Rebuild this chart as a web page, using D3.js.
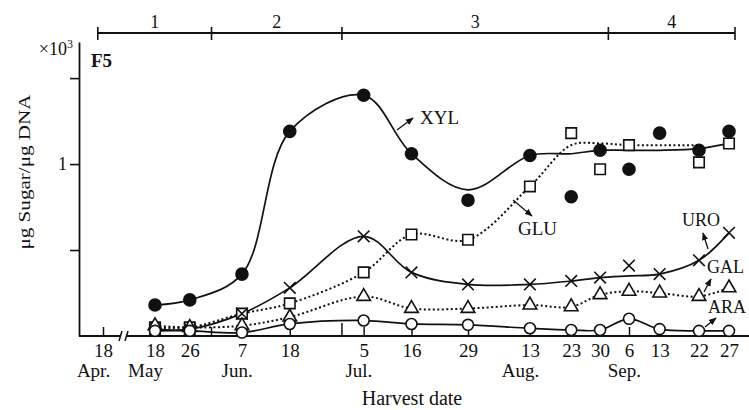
<!DOCTYPE html>
<html>
<head>
<meta charset="utf-8">
<script src="https://cdn.jsdelivr.net/npm/d3@7"></script>
<style>
    body { margin: 0; background: #fff; }
    svg { display: block; font-family: "Liberation Serif", "Times New Roman", serif; }
</style>
</head>
<body>
<svg width="749" height="410"></svg>
<script>
    var parseDate = d3.timeParse("%Y-%m-%d");

    // axis ticks (18 Apr sits before the axis break)
    var tickDates = ["1983-04-18", "1983-05-18", "1983-05-26", "1983-06-07", "1983-06-18",
        "1983-07-05", "1983-07-16", "1983-07-29", "1983-08-13", "1983-08-23", "1983-08-30",
        "1983-09-06", "1983-09-13", "1983-09-22", "1983-09-27"];
    var monthDates = ["1983-04-18", "1983-05-18", "1983-06-07", "1983-07-05", "1983-08-13", "1983-09-06"];
    var monthNames = ["Apr.", "May", "Jun.", "Jul.", "Aug.", "Sep."];

    // growth stages 1-4 (bar on top)
    var stageBounds = ["1983-04-15", "1983-05-31", "1983-06-30", "1983-09-01", "1983-09-28"];
    var stageNames = ["1", "2", "3", "4"];

    var harvestDates = ["1983-05-18", "1983-05-26", "1983-06-07", "1983-06-18", "1983-07-05",
        "1983-07-16", "1983-07-29", "1983-08-13", "1983-08-23", "1983-08-30", "1983-09-06",
        "1983-09-13", "1983-09-22", "1983-09-27"];

    // x10^3 ug sugar / ug DNA
    var xyl      = [0.18, 0.21, 0.36, 1.19, 1.40, 1.06, 0.79, 1.05, 0.81, 1.08, 0.97, 1.18, 1.08, 1.19];
    var xylCurve = [0.18, 0.21, 0.36, 1.19, 1.40, 1.06, 0.85, 1.05, 1.06, 1.08, 1.08, 1.08, 1.09, 1.12];
    var glu      = [0.05, 0.05, 0.13, 0.19, 0.37, 0.59, 0.56, 0.87, 1.18, 0.97, 1.11, null, 1.01, 1.12];
    var gluCurve = [0.05, 0.05, 0.13, 0.19, 0.37, 0.59, 0.56, 0.87, 1.11, 1.12, 1.11, 1.11, 1.11, null];
    var uro      = [0.04, 0.04, 0.13, 0.28, 0.58, 0.37, 0.30, 0.30, 0.32, 0.34, 0.41, 0.36, 0.44, 0.60];
    var uroCurve = [0.04, 0.04, 0.13, 0.28, 0.58, 0.37, 0.30, 0.30, 0.32, 0.34, 0.35, 0.36, 0.44, 0.60];
    var gal      = [0.06, 0.05, 0.06, 0.11, 0.23, 0.16, 0.16, 0.18, 0.17, 0.24, 0.26, 0.25, 0.23, 0.28];
    var ara      = [0.03, 0.03, 0.02, 0.07, 0.09, 0.07, 0.065, 0.045, 0.035, 0.035, 0.10, 0.04, 0.03, 0.03];

    var yTicks = [0.5, 1, 1.5];

    var svg = d3.select("svg"),
        ink = "#111",
        baseY = 336;

    // broken time axis: Apr segment, then the harvest season
    var x = d3.scaleTime()
        .domain(["1983-04-18", "1983-05-18", "1983-07-29", "1983-09-06", "1983-09-22", "1983-09-27"].map(parseDate))
        .range([103, 155, 468, 629, 699, 729]);

    var y = d3.scaleLinear()
        .domain([0, 1.71])
        .range([baseY, 42]);

    var series = [
        {name: "XYL", values: xyl, curve: xylCurve, dotted: false, symbol: d3.symbolCircle, size: 113, filled: true},
        {name: "GLU", values: glu, curve: gluCurve, dotted: true, symbol: d3.symbolSquare, size: 110, filled: false},
        {name: "URO", values: uro, curve: uroCurve, dotted: false, symbol: d3.symbolTimes, size: 90, filled: false},
        {name: "GAL", values: gal, curve: gal, dotted: true, symbol: d3.symbolTriangle, size: 80, filled: false},
        {name: "ARA", values: ara, curve: ara, dotted: false, symbol: d3.symbolCircle, size: 95, filled: false}
    ];

    // label + arrow placement (px)
    var notes = [
        {text: "XYL", x: 420, y: 124, size: 19, from: [397, 130], to: [413, 118]},
        {text: "GLU", x: 518, y: 235, size: 19, from: [513, 200], to: [532, 216]},
        {text: "URO", x: 682, y: 226, size: 18, from: [708, 249], to: [703, 233]},
        {text: "GAL", x: 707, y: 273, size: 18, from: [704, 292], to: [711, 279]},
        {text: "ARA", x: 708, y: 313, size: 18, from: [705, 327], to: [716, 318]}
    ];

    svg.append("defs").append("marker")
        .attr("id", "head")
        .attr("viewBox", "0 0 10 10")
        .attr("refX", 9).attr("refY", 5)
        .attr("markerUnits", "userSpaceOnUse")
        .attr("markerWidth", 8).attr("markerHeight", 8)
        .attr("orient", "auto")
        .append("path")
        .attr("d", "M0,1L10,5L0,9z")
        .attr("fill", ink);

    // ---- top stage bar
    var stageX = stageBounds.map(function(d) { return x(parseDate(d)); });
    var stageBar = svg.append("g");
    stageBar.append("line")
        .attr("x1", stageX[0]).attr("x2", stageX[stageX.length - 1])
        .attr("y1", 33).attr("y2", 33)
        .attr("stroke", ink).attr("stroke-width", 1.8);
    stageBar.selectAll(".st")
        .data(stageX)
        .enter().append("line")
        .attr("x1", function(d) { return d; }).attr("x2", function(d) { return d; })
        .attr("y1", 27).attr("y2", 40)
        .attr("stroke", ink).attr("stroke-width", 1.6);
    stageBar.selectAll(".sl")
        .data(stageNames)
        .enter().append("text")
        .attr("x", function(d, i) { return (stageX[i] + stageX[i + 1]) / 2; })
        .attr("y", 28)
        .attr("text-anchor", "middle")
        .attr("font-size", 18)
        .attr("fill", ink)
        .text(function(d) { return d; });

    // ---- y axis
    var yAxis = svg.append("g")
        .attr("transform", "translate(79,0)")
        .call(d3.axisLeft(y)
            .tickValues(yTicks)
            .tickSizeInner(9).tickSizeOuter(0).tickPadding(3)
            .tickFormat(function(d) { return d === 1 ? "1" : ""; }));
    yAxis.attr("font-family", null).attr("font-size", 18);
    yAxis.select(".domain").attr("stroke", ink).attr("stroke-width", 1.8);
    yAxis.selectAll(".tick line").attr("stroke", ink).attr("stroke-width", 1.6);
    yAxis.selectAll(".tick text").attr("fill", ink);

    svg.append("text")
        .attr("transform", "translate(24,172) rotate(-90)")
        .attr("text-anchor", "middle")
        .attr("dominant-baseline", "central")
        .attr("font-size", 17)
        .attr("textLength", 155)
        .attr("lengthAdjust", "spacingAndGlyphs")
        .attr("fill", ink)
        .text("\u03bcg Sugar/\u03bcg DNA");

    var unit = svg.append("text")
        .attr("x", 73).attr("y", 55)
        .attr("text-anchor", "end")
        .attr("font-size", 18)
        .attr("fill", ink);
    unit.append("tspan").text("\u00d710");
    unit.append("tspan").attr("font-size", 12).attr("dy", -7).text("3");

    svg.append("text")
        .attr("x", 91).attr("y", 67)
        .attr("font-size", 19)
        .attr("font-weight", "bold")
        .attr("fill", ink)
        .text("F5");

    // ---- x axis (broken line drawn by hand, ticks point inward)
    var xAxis = svg.append("g")
        .attr("transform", "translate(0," + baseY + ")")
        .call(d3.axisBottom(x)
            .tickValues(tickDates.map(parseDate))
            .tickSizeInner(-9).tickSizeOuter(0).tickPadding(8)
            .tickFormat(d3.timeFormat("%-d")));
    xAxis.attr("font-family", null).attr("font-size", 19);
    xAxis.select(".domain").remove();
    xAxis.selectAll(".tick line").attr("stroke", ink).attr("stroke-width", 1.5);
    xAxis.selectAll(".tick text").attr("fill", ink);

    svg.append("path")
        .attr("d", "M79," + baseY + "H121M127," + baseY + "H749")
        .attr("stroke", ink).attr("stroke-width", 1.8).attr("fill", "none");
    svg.append("path")
        .attr("d", "M119,341L122,331M125,341L128,331")
        .attr("stroke", ink).attr("stroke-width", 1.5).attr("fill", "none");

    // stage boundary marks on the base line
    svg.selectAll(".sb")
        .data([stageX[1], stageX[2]])
        .enter().append("line")
        .attr("x1", function(d) { return d; }).attr("x2", function(d) { return d; })
        .attr("y1", baseY).attr("y2", function(d, i) { return i === 0 ? baseY - 9 : baseY - 13; })
        .attr("stroke", ink).attr("stroke-width", 1.5);

    // month names, left aligned with the day number above
    var fmt = d3.timeFormat("%Y-%m-%d");
    xAxis.selectAll(".tick text").each(function(d) {
        var k = monthDates.indexOf(fmt(d));
        if (k < 0) return;
        var bb = this.getBBox();
        xAxis.append("text")
            .attr("x", x(d) + bb.x)
            .attr("y", 41)
            .attr("font-size", 19)
            .attr("fill", ink)
            .text(monthNames[k]);
    });

    svg.append("text")
        .attr("x", 412).attr("y", 405)
        .attr("text-anchor", "middle")
        .attr("font-size", 20)
        .attr("fill", ink)
        .text("Harvest date");

    // ---- curves and points
    var dates = harvestDates.map(parseDate);
    var plot = svg.append("g");

    series.forEach(function(s) {
        var pts = dates.map(function(d, i) { return {date: d, v: s.curve[i]}; });
        var line = d3.line()
            .defined(function(d) { return d.v != null; })
            .x(function(d) { return x(d.date); })
            .y(function(d) { return y(d.v); })
            .curve(d3.curveCatmullRom.alpha(0.5));
        plot.append("path")
            .datum(pts)
            .attr("d", line)
            .attr("fill", "none")
            .attr("stroke", ink)
            .attr("stroke-width", s.dotted ? 2 : 1.7)
            .attr("stroke-dasharray", s.dotted ? "2,2.5" : null);
    });

    series.forEach(function(s) {
        var pts = dates.map(function(d, i) { return {date: d, v: s.values[i]}; })
            .filter(function(d) { return d.v != null; });
        plot.selectAll(".m-" + s.name)
            .data(pts)
            .enter().append("path")
            .attr("transform", function(d) { return "translate(" + x(d.date) + "," + y(d.v) + ")"; })
            .attr("d", d3.symbol().type(s.symbol).size(s.size))
            .attr("fill", s.filled ? ink : (s.symbol === d3.symbolTimes ? "none" : "#fff"))
            .attr("stroke", ink)
            .attr("stroke-width", 1.6);
    });

    // ---- labels with arrows
    var ann = svg.append("g");
    ann.selectAll("line")
        .data(notes)
        .enter().append("line")
        .attr("x1", function(d) { return d.from[0]; }).attr("y1", function(d) { return d.from[1]; })
        .attr("x2", function(d) { return d.to[0]; }).attr("y2", function(d) { return d.to[1]; })
        .attr("stroke", ink).attr("stroke-width", 1.3)
        .attr("marker-end", "url(#head)");
    ann.selectAll("text")
        .data(notes)
        .enter().append("text")
        .attr("x", function(d) { return d.x; })
        .attr("y", function(d) { return d.y; })
        .attr("font-size", function(d) { return d.size; })
        .attr("fill", ink)
        .text(function(d) { return d.text; });
</script>
</body>
</html>
